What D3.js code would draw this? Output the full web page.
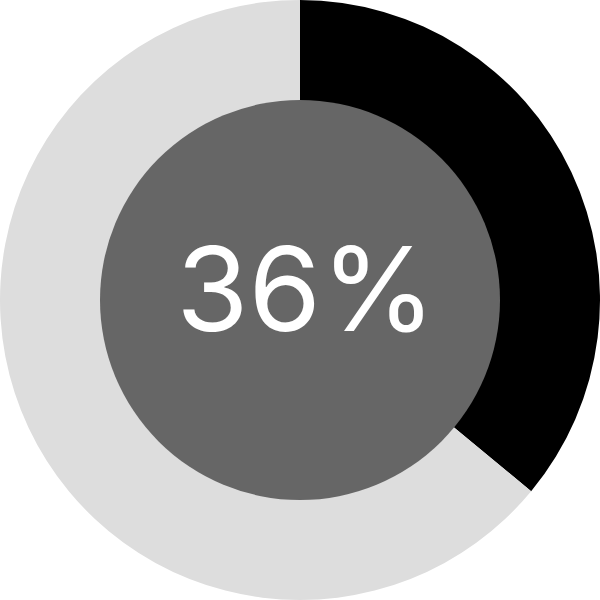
<!DOCTYPE html>
<html>
<head>
<meta charset="utf-8">
<script src="https://cdn.jsdelivr.net/npm/d3@7"></script>
<style>
  body { margin: 0; background: #fff; }
</style>
</head>
<body>
<div class="canvas"></div>
<script>
const WIDTH = 600;
const HEIGHT = 600;

// data
const labels = ['done', 'rest'];
const values = [36, 64];
const centerLabel = '36%';

// colors
const colors = ['#000000', '#dddddd'];
const holeColor = '#666666';

const radius = Math.min(WIDTH, HEIGHT) / 2;
const innerRadius = radius * 2 / 3;

const svg = d3.select('.canvas')
  .append('svg')
    .attr('width', WIDTH)
    .attr('height', HEIGHT);

const graph = svg.append('g')
  .attr('transform', `translate(${WIDTH / 2}, ${HEIGHT / 2})`);

const pie = d3.pie()
  .sort(null)
  .value(d => d);

const arc = d3.arc()
  .innerRadius(0)
  .outerRadius(radius);

const color = d3.scaleOrdinal()
  .domain(labels)
  .range(colors);

graph.selectAll('path')
  .data(pie(values))
  .enter().append('path')
    .attr('d', arc)
    .attr('fill', (d, i) => color(labels[i]));

// center hole
graph.append('circle')
  .attr('r', innerRadius)
  .attr('fill', holeColor);

graph.append('text')
  .attr('x', 6)
  .attr('y', 31)
  .attr('text-anchor', 'middle')
  .attr('fill', '#fff')
  .style('font-family', 'Inter, sans-serif')
  .style('font-size', '117px')
  .text(centerLabel);
</script>
</body>
</html>
